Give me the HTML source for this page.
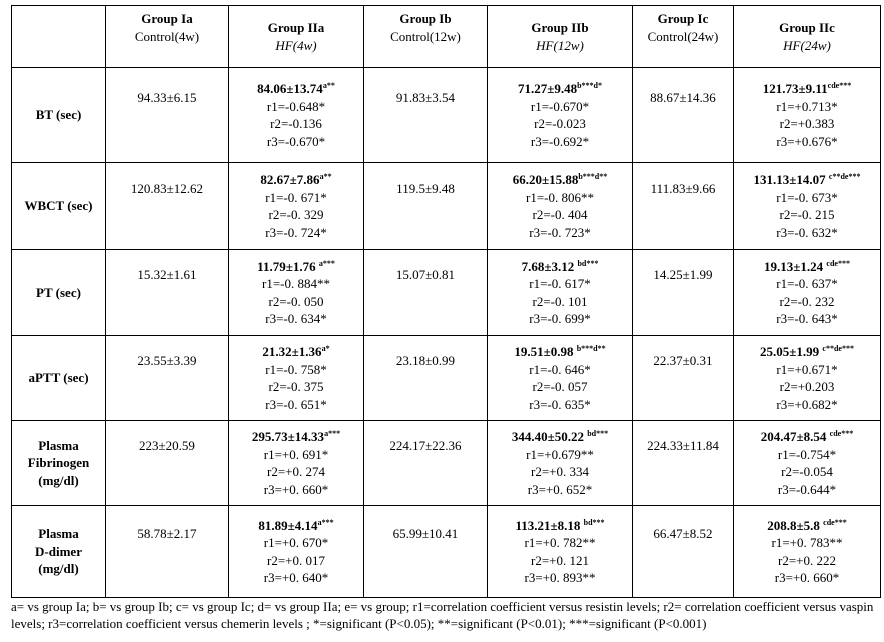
<!DOCTYPE html>
<html><head><meta charset="utf-8"><style>
body{margin:0;width:884px;height:642px;background:#fff;position:relative;font-family:"Liberation Serif",serif;color:#000;overflow:hidden}
table{position:absolute;left:11px;top:5px;border-collapse:collapse;font-size:13px;line-height:17.5px;table-layout:fixed}
td{border:1.5px solid #000;text-align:center;vertical-align:middle;padding:0}
b{font-weight:bold}
sup{font-size:8px;line-height:0;vertical-align:5px;font-weight:bold}
.lbl{font-weight:bold}
.foot{position:absolute;left:11px;top:598px;width:872px;font-size:13px;line-height:17px}
</style></head><body>
<table>
<colgroup><col style="width:94px"><col style="width:123px"><col style="width:135px"><col style="width:124px"><col style="width:145px"><col style="width:101px"><col style="width:147px"></colgroup>
<tr style="height:62px"><td></td><td><b>Group Ia</b><br>Control(4w)<br>&nbsp;</td><td><b>Group IIa</b><br><i>HF(4w)</i></td><td><b>Group Ib</b><br>Control(12w)<br>&nbsp;</td><td><b>Group IIb</b><br><i>HF(12w)</i></td><td><b>Group Ic</b><br>Control(24w)<br>&nbsp;</td><td><b>Group IIc</b><br><i>HF(24w)</i></td></tr>
<tr style="height:95px"><td class="lbl">BT (sec)</td><td>94.33±6.15<br>&nbsp;<br>&nbsp;</td><td><b>84.06±13.74</b><sup>a**</sup><br>r1=-0.648*<br>r2=-0.136<br>r3=-0.670*</td><td>91.83±3.54<br>&nbsp;<br>&nbsp;</td><td><b>71.27±9.48</b><sup>b***d*</sup><br>r1=-0.670*<br>r2=-0.023<br>r3=-0.692*</td><td>88.67±14.36<br>&nbsp;<br>&nbsp;</td><td><b>121.73±9.11</b><sup>cde***</sup><br>r1=+0.713*<br>r2=+0.383<br>r3=+0.676*</td></tr>
<tr style="height:87px"><td class="lbl">WBCT (sec)</td><td>120.83±12.62<br>&nbsp;<br>&nbsp;</td><td><b>82.67±7.86</b><sup>a**</sup><br>r1=-0. 671*<br>r2=-0. 329<br>r3=-0. 724*</td><td>119.5±9.48<br>&nbsp;<br>&nbsp;</td><td><b>66.20±15.88</b><sup>b***d**</sup><br>r1=-0. 806**<br>r2=-0. 404<br>r3=-0. 723*</td><td>111.83±9.66<br>&nbsp;<br>&nbsp;</td><td><b>131.13±14.07</b> <sup>c**de***</sup><br>r1=-0. 673*<br>r2=-0. 215<br>r3=-0. 632*</td></tr>
<tr style="height:86px"><td class="lbl">PT (sec)</td><td>15.32±1.61<br>&nbsp;<br>&nbsp;</td><td><b>11.79±1.76</b> <sup>a***</sup><br>r1=-0. 884**<br>r2=-0. 050<br>r3=-0. 634*</td><td>15.07±0.81<br>&nbsp;<br>&nbsp;</td><td><b>7.68±3.12</b> <sup>bd***</sup><br>r1=-0. 617*<br>r2=-0. 101<br>r3=-0. 699*</td><td>14.25±1.99<br>&nbsp;<br>&nbsp;</td><td><b>19.13±1.24</b> <sup>cde***</sup><br>r1=-0. 637*<br>r2=-0. 232<br>r3=-0. 643*</td></tr>
<tr style="height:85px"><td class="lbl">aPTT (sec)</td><td>23.55±3.39<br>&nbsp;<br>&nbsp;</td><td><b>21.32±1.36</b><sup>a*</sup><br>r1=-0. 758*<br>r2=-0. 375<br>r3=-0. 651*</td><td>23.18±0.99<br>&nbsp;<br>&nbsp;</td><td><b>19.51±0.98</b> <sup>b***d**</sup><br>r1=-0. 646*<br>r2=-0. 057<br>r3=-0. 635*</td><td>22.37±0.31<br>&nbsp;<br>&nbsp;</td><td><b>25.05±1.99</b> <sup>c**de***</sup><br>r1=+0.671*<br>r2=+0.203<br>r3=+0.682*</td></tr>
<tr style="height:85px"><td class="lbl">Plasma<br>Fibrinogen<br>(mg/dl)</td><td>223±20.59<br>&nbsp;<br>&nbsp;</td><td><b>295.73±14.33</b><sup>a***</sup><br>r1=+0. 691*<br>r2=+0. 274<br>r3=+0. 660*</td><td>224.17±22.36<br>&nbsp;<br>&nbsp;</td><td><b>344.40±50.22</b> <sup>bd***</sup><br>r1=+0.679**<br>r2=+0. 334<br>r3=+0. 652*</td><td>224.33±11.84<br>&nbsp;<br>&nbsp;</td><td><b>204.47±8.54</b> <sup>cde***</sup><br>r1=-0.754*<br>r2=-0.054<br>r3=-0.644*</td></tr>
<tr style="height:92px"><td class="lbl">Plasma<br>D-dimer<br>(mg/dl)</td><td>58.78±2.17<br>&nbsp;<br>&nbsp;</td><td><b>81.89±4.14</b><sup>a***</sup><br>r1=+0. 670*<br>r2=+0. 017<br>r3=+0. 640*</td><td>65.99±10.41<br>&nbsp;<br>&nbsp;</td><td><b>113.21±8.18</b> <sup>bd***</sup><br>r1=+0. 782**<br>r2=+0. 121<br>r3=+0. 893**</td><td>66.47±8.52<br>&nbsp;<br>&nbsp;</td><td><b>208.8±5.8</b> <sup>cde***</sup><br>r1=+0. 783**<br>r2=+0. 222<br>r3=+0. 660*</td></tr>
</table>
<div class="foot">a= vs group Ia; b= vs group Ib; c= vs group Ic; d= vs group IIa; e= vs group; r1=correlation coefficient versus resistin levels; r2= correlation coefficient versus vaspin<br>levels; r3=correlation coefficient versus chemerin levels ; *=significant (P&lt;0.05); **=significant (P&lt;0.01); ***=significant (P&lt;0.001)</div>
</body></html>
